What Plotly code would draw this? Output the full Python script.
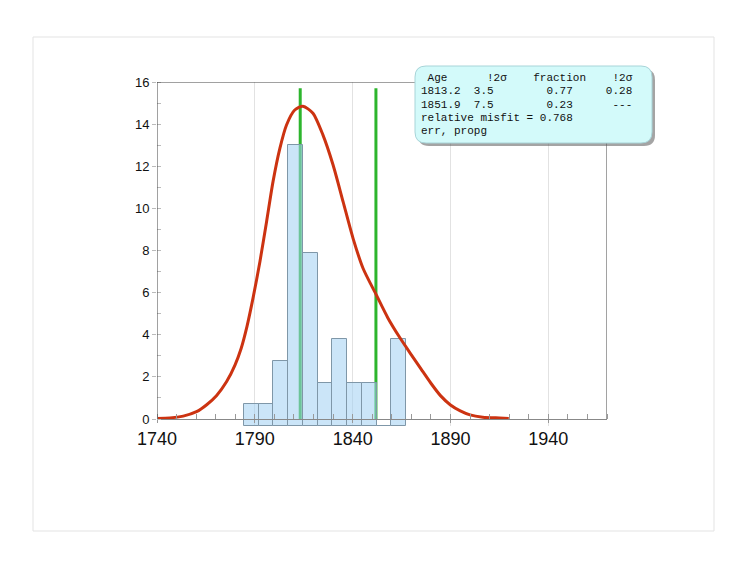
"""
Histograma de edades con curva de densidad y picos
"""

import plotly.graph_objects as go

# datos
bin_edges = [1784.5, 1792.2, 1799.3, 1807.0, 1814.6, 1822.3, 1829.6, 1837.3, 1844.9, 1852.4, 1859.7, 1867.4]
bar_tops = [0.71, 0.71, 2.75, 13.0, 7.87, 1.69, 3.78, 1.69, 1.69, 0.0, 3.78]
bar_base = -0.33

curve_x = [1740, 1746.6, 1753.4, 1760.2, 1765.4, 1770.5, 1775.6, 1779.8, 1783, 1786,
           1789.1, 1792.6, 1796, 1799.3, 1802.8, 1806.2, 1810.4, 1814.6, 1819.7, 1824.8,
           1830, 1835.1, 1840.2, 1845.3, 1852.1, 1858, 1864, 1870, 1875, 1880,
           1885, 1890, 1895, 1900, 1906.5, 1915, 1919.8]
curve_y = [0.03, 0.05, 0.14, 0.35, 0.68, 1.12, 1.78, 2.55, 3.35, 4.4,
           5.75, 7.47, 9.37, 11.27, 12.85, 13.96, 14.67, 14.85, 14.52, 13.49,
           12.06, 10.32, 8.58, 7.16, 5.89, 4.8, 3.88, 3.05, 2.37, 1.7,
           1.1, 0.67, 0.39, 0.2, 0.09, 0.05, 0.03]

peak_ages = [1813.2, 1851.9]
peak_top = 15.7

table_lines = [
    " Age      !2σ    fraction    !2σ",
    "1813.2  3.5        0.77     0.28",
    "1851.9  7.5        0.23      ---",
    "relative misfit = 0.768",
    "err, propg",
]

X_RANGE = [1740, 1970]
Y_RANGE = [bar_base, 16]

# geometria en pixeles (la pagina tiene 8px de margen)
OFF = 8
W, H = 734 - OFF, 576 - OFF
ML, MR, MT, MB = 157 - OFF, 127, 82 - OFF, 150
PW, PH = W - ML - MR, H - MT - MB


def px_x(p):
    return (p - OFF - ML) / PW


def px_y(p):
    return (H - MB - (p - OFF)) / PH


def rounded_path(x0, y0, x1, y1, r):
    """Rectangulo redondeado en coordenadas de papel a partir de pixeles"""
    a, b = px_x(x0), px_x(x1)
    top, bot = px_y(y0), px_y(y1)
    rx, ry = r / PW, r / PH
    return (f"M {a + rx},{top} L {b - rx},{top} Q {b},{top} {b},{top - ry} "
            f"L {b},{bot + ry} Q {b},{bot} {b - rx},{bot} "
            f"L {a + rx},{bot} Q {a},{bot} {a},{bot + ry} "
            f"L {a},{top - ry} Q {a},{top} {a + rx},{top} Z")


fig = go.Figure()

# histograma
centers = [(bin_edges[i] + bin_edges[i + 1]) / 2 for i in range(len(bar_tops))]
widths = [bin_edges[i + 1] - bin_edges[i] for i in range(len(bar_tops))]
heights = [t - bar_base if t > 0 else 0 for t in bar_tops]
fig.add_trace(go.Bar(
    x=centers, y=heights, width=widths, base=bar_base,
    marker=dict(color="rgba(160,208,242,0.55)", line=dict(color="#7f97a8", width=1)),
    showlegend=False, hoverinfo="skip"
))

# curva de densidad
fig.add_trace(go.Scatter(
    x=curve_x, y=curve_y, mode="lines",
    line=dict(color="#cc3311", width=3, shape="spline", smoothing=0.7),
    showlegend=False
))

shapes = [
    # marco exterior
    dict(type="rect", xref="paper", yref="paper",
         x0=px_x(33), x1=px_x(714), y0=px_y(531), y1=px_y(37),
         line=dict(color="#e3e3e3", width=1), layer="below"),
]

# lineas verdes de los picos (debajo de las barras)
for age in peak_ages:
    shapes.append(dict(type="line", x0=age, x1=age, y0=0, y1=peak_top,
                       line=dict(color="#2db52d", width=3), layer="below"))

shapes += [
    # bordes del grafico
    dict(type="line", x0=X_RANGE[0], x1=X_RANGE[0], y0=0, y1=16, line=dict(color="#444", width=1)),
    dict(type="line", x0=X_RANGE[0], x1=X_RANGE[1], y0=16, y1=16, line=dict(color="#444", width=1)),
    dict(type="line", x0=X_RANGE[1], x1=X_RANGE[1], y0=0, y1=16, line=dict(color="#444", width=1)),
    # caja de resultados con sombra
    dict(type="path", xref="paper", yref="paper", path=rounded_path(418, 69, 655, 146, 11),
         fillcolor="rgba(90,90,90,0.55)", line=dict(width=0)),
    dict(type="path", xref="paper", yref="paper", path=rounded_path(415, 66, 652, 143, 11),
         fillcolor="#d3fafa", line=dict(color="#a8d4d8", width=1)),
]

annotations = []
for i, line in enumerate(table_lines):
    annotations.append(dict(
        xref="paper", yref="paper", x=px_x(419), y=px_y(78 + i * 13.3),
        xanchor="left", yanchor="middle", showarrow=False,
        text=line.replace(" ", "\u00a0"),
        font=dict(family="Courier New, Liberation Mono, monospace", size=11, color="#111")
    ))

fig.update_layout(
    width=W, height=H,
    margin=dict(l=ML, r=MR, t=MT, b=MB),
    plot_bgcolor="white", paper_bgcolor="white",
    shapes=shapes, annotations=annotations,
    bargap=0,
    xaxis=dict(
        range=X_RANGE, tick0=1740, dtick=50, anchor="free",
        position=(0 - bar_base) / (Y_RANGE[1] - bar_base),
        showline=True, linecolor="#888", linewidth=1,
        showgrid=True, gridcolor="#e2e2e2", zeroline=False,
        ticks="outside", ticklen=3, tickcolor="#999",
        minor=dict(dtick=10, tick0=1740, ticks="inside", ticklen=5, tickcolor="#999", showgrid=False),
        tickfont=dict(family="Arial, Liberation Sans", size=18, color="#111")
    ),
    yaxis=dict(
        range=Y_RANGE, tick0=0, dtick=2,
        showline=False, showgrid=False, zeroline=False,
        ticks="outside", ticklen=4, tickcolor="#bbb",
        minor=dict(dtick=1, tick0=0, ticks="inside", ticklen=4, tickcolor="#bbb"),
        tickfont=dict(family="Arial, Liberation Sans", size=13, color="#111")
    ),
)

fig.write_html("out.html")
